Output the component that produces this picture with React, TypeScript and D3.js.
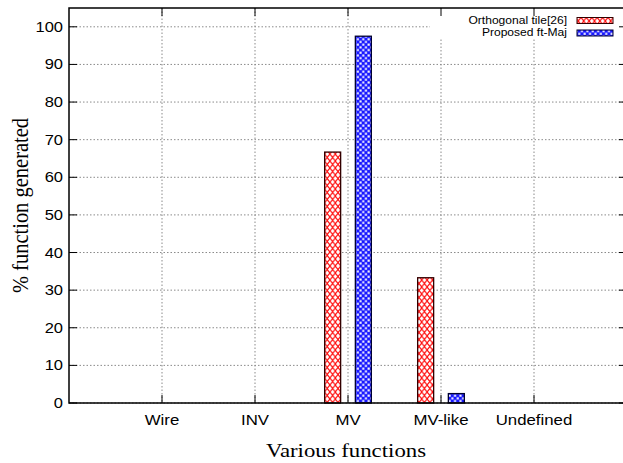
import React from "react";
import * as d3 from "d3";

const categories = ["Wire", "INV", "MV", "MV-like", "Undefined"];
const orthogonal = [0, 0, 66.7, 33.3, 0];
const proposed = [0, 0, 97.5, 2.5, 0];
const yTicks = [0, 10, 20, 30, 40, 50, 60, 70, 80, 90, 100];
const seriesNames = ["Orthogonal tile[26]", "Proposed ft-Maj"];

const W = 623, H = 463;
const left = 69, top = 8, bottom = 403, right = 627;
const SANS = "Liberation Sans, Arial, sans-serif";
const SERIF = "Liberation Serif, Times New Roman, serif";

export default function App() {
  const x = d3.scaleLinear().domain([0, categories.length + 1]).range([left, right]);
  const y = d3.scaleLinear().domain([0, 105]).range([bottom, top]);
  const bw = x(0.172) - x(0);
  const off = 0.165;
  const series = [
    { name: seriesNames[0], values: orthogonal, fill: "url(#hatchRed)", dx: -off, stroke: "#300" },
    { name: seriesNames[1], values: proposed, fill: "url(#checkBlue)", dx: off, stroke: "#000030" },
  ];
  const grid = "#8a8a8a";
  return (
    <svg width={W} height={H} style={{ position: "absolute", left: 0, top: 0, background: "#fff" }}>
      <defs>
        <pattern id="hatchRed" patternUnits="userSpaceOnUse" width="5.4" height="7" x="0.5">
          <rect width="5.4" height="7" fill="#fff" />
          <path d="M0,0 L5.4,7 M5.4,0 L0,7" stroke="#ff1010" strokeWidth="1.2" />
        </pattern>
        <pattern id="checkBlue" patternUnits="userSpaceOnUse" width="5.4" height="5.4">
          <rect width="5.4" height="5.4" fill="#1818ff" />
          <rect x="0.4" y="0.4" width="2.1" height="2.1" fill="#fff" />
          <rect x="3.1" y="3.1" width="2.1" height="2.1" fill="#fff" />
        </pattern>
      </defs>
      {/* grid */}
      {yTicks.map((t) => (
        <line key={"gy" + t} x1={left} x2={right} y1={y(t)} y2={y(t)} stroke={grid} strokeWidth={1} strokeDasharray="1.5,2" />
      ))}
      {categories.map((c, i) => (
        <line key={"gx" + c} x1={x(i + 1)} x2={x(i + 1)} y1={top} y2={bottom} stroke={grid} strokeWidth={1} strokeDasharray="1.5,2" />
      ))}
      {/* legend background */}
      <rect x={430} y={top + 1} width={W - 430} height={29} fill="#fff" />
      {/* bars */}
      {series.map((s) =>
        s.values.map((v, i) =>
          v > 0 ? (
            <rect
              key={s.name + i}
              x={x(i + 1 + s.dx) - bw / 2}
              y={y(v)}
              width={bw}
              height={y(0) - y(v)}
              fill={s.fill}
              stroke={s.stroke}
              strokeWidth={1.3}
            />
          ) : null
        )
      )}
      {/* frame */}
      <rect x={left} y={top} width={right - left} height={bottom - top} fill="none" stroke="#000" strokeWidth={1.5} />
      {/* ticks */}
      {yTicks.map((t) => (
        <g key={"ty" + t}>
          <line x1={left} x2={left + 8} y1={y(t)} y2={y(t)} stroke="#000" />
          <line x1={right} x2={right - 8} y1={y(t)} y2={y(t)} stroke="#000" />
          <text
            transform={`translate(${left - 6},${y(t) + 5}) scale(1.18,1)`}
            textAnchor="end"
            fontFamily={SANS}
            fontSize={14}
            fill="#000"
          >
            {t}
          </text>
        </g>
      ))}
      {categories.map((c, i) => (
        <g key={"tx" + c}>
          <line x1={x(i + 1)} x2={x(i + 1)} y1={bottom} y2={bottom - 8} stroke="#000" />
          <line x1={x(i + 1)} x2={x(i + 1)} y1={top} y2={top + 8} stroke="#000" />
          <text
            transform={`translate(${x(i + 1)},${bottom + 22}) scale(1.2,1)`}
            textAnchor="middle"
            fontFamily={SANS}
            fontSize={14}
            fill="#000"
          >
            {c}
          </text>
        </g>
      ))}
      {/* axis titles */}
      <text
        transform={`translate(${(left + W) / 2},457) scale(1.2,1)`}
        textAnchor="middle"
        fontFamily={SERIF}
        fontSize={19}
        fill="#000"
      >
        Various functions
      </text>
      <text
        transform={`translate(28,${(top + bottom) / 2}) rotate(-90) scale(1,1.12)`}
        textAnchor="middle"
        fontFamily={SERIF}
        fontSize={20.5}
        fill="#000"
      >
        % function generated
      </text>
      {/* legend */}
      {series.map((s, k) => (
        <g key={"lg" + s.name}>
          <text
            transform={`translate(567,${24 + k * 12}) scale(1.15,1)`}
            textAnchor="end"
            fontFamily={SANS}
            fontSize={10.5}
            fill="#000"
          >
            {s.name}
          </text>
          <rect x={577} y={17.5 + k * 12.5} width={36} height={6} fill={s.fill} stroke={s.stroke} strokeWidth={1} />
        </g>
      ))}
    </svg>
  );
}
